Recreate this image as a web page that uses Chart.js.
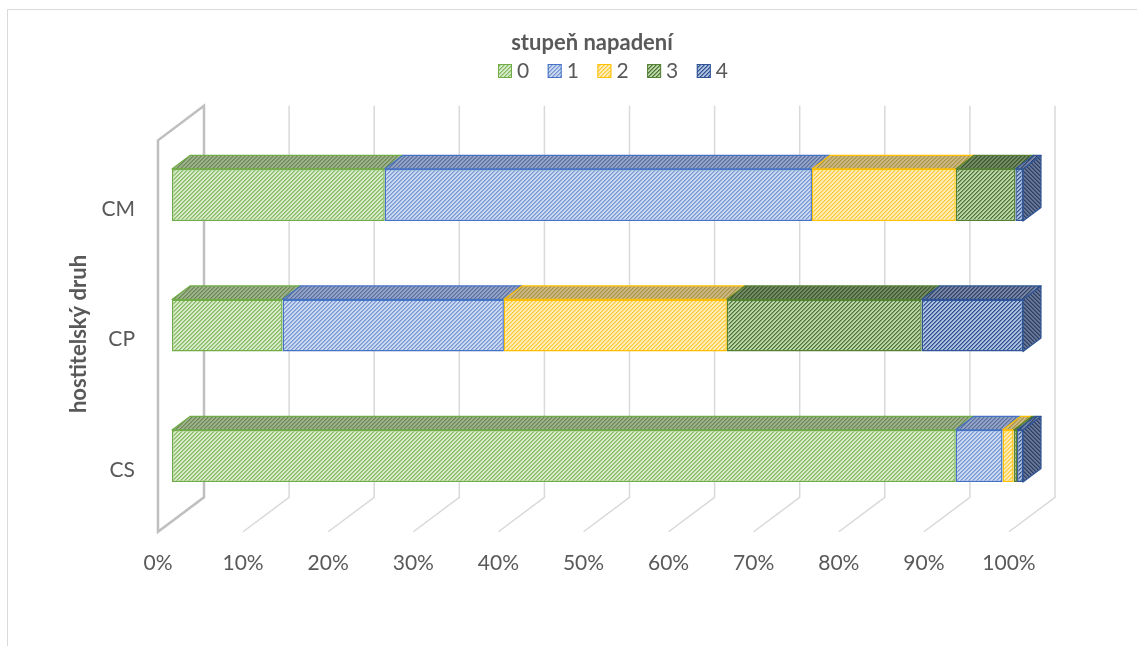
<!DOCTYPE html>
<html>
<head>
<meta charset="utf-8">
<script src="https://cdn.jsdelivr.net/npm/chart.js@4"></script>
<style>
  html, body { margin: 0; padding: 0; background: #fff; }
  canvas { display: block; }
</style>
</head>
<body>
<canvas id="c" width="1137" height="646"></canvas>
<script>
// Share of each infestation degree (%) per host species
const categories = ['CM', 'CP', 'CS'];
const seriesNames = ['0', '1', '2', '3', '4'];
const s0 = [25.0, 13.0, 92.1];
const s1 = [50.2, 26.0, 5.5];
const s2 = [16.9, 26.2, 1.3];
const s3 = [7.0, 22.9, 0.4];
const s4 = [0.9, 11.9, 0.7];
const xTicks = [0, 10, 20, 30, 40, 50, 60, 70, 80, 90, 100];
const legendTitle = 'stupeň napadení';
const yTitle = 'hostitelský druh';

const seriesValues = [s0, s1, s2, s3, s4];

// stroke colour and hatch colours (stripe, ground) for front, top and side faces
const faceStyles = [
  { line: '#70ad47', front: ['#84bb60', '#e3f0d9'], top: ['#6a8a51', '#a6b696'], side: ['#5e7d47', '#93a684'] },
  { line: '#4472c4', front: ['#7496d4', '#d8e2f3'], top: ['#5a70a1', '#9dabc9'], side: ['#4f6390', '#8797b8'] },
  { line: '#ffc000', front: ['#ffca38', '#fff2cc'], top: ['#ad9444', '#cdbe92'], side: ['#9c8540', '#bcac7e'] },
  { line: '#548235', front: ['#4a762e', '#cce1bc'], top: ['#3c582a', '#7c926f'], side: ['#34502a', '#6c8260'] },
  { line: '#2f5597', front: ['#2d5294', '#c0cee8'], top: ['#31436a', '#7f8eab'], side: ['#2b3d63', '#6f7f9f'] }
];

const canvas = document.getElementById('c');
const ctx0 = canvas.getContext('2d');

function rgb(h) {
  const n = parseInt(h.slice(1), 16);
  return [(n >> 16) & 255, (n >> 8) & 255, n & 255];
}

// diagonal hatch tile; dir 1 = "/" stripes, -1 = "\" stripes
function hatch(colors, dir) {
  const n = 8;
  const weights = [1, 0.6, 0.1, 0.15];
  const t = document.createElement('canvas');
  t.width = n; t.height = n;
  const g = t.getContext('2d');
  const img = g.createImageData(n, n);
  const F = rgb(colors[0]), B = rgb(colors[1]);
  for (let y = 0; y < n; y++) {
    for (let x = 0; x < n; x++) {
      const k = (dir > 0 ? x + y : x - y + n * 4) % 4;
      const w = weights[k];
      const o = (y * n + x) * 4;
      for (let c = 0; c < 3; c++) img.data[o + c] = Math.round(B[c] + (F[c] - B[c]) * w);
      img.data[o + 3] = 255;
    }
  }
  g.putImageData(img, 0, 0);
  return ctx0.createPattern(t, 'repeat');
}

const frontFill = faceStyles.map(s => hatch(s.front, 1));
const topFill = faceStyles.map(s => hatch(s.top, 1));
const sideFill = faceStyles.map(s => hatch(s.side, -1));

// oblique depth offsets relative to the bar front plane
const DEPTH = { backX: 32, backY: -24, frontX: -14, frontY: 10.5, barX: 18, barY: -13.5 };
const TEXT = '#595959';
const FONT = 'Lato, "Open Sans", sans-serif';

const scene = {
  id: 'scene',
  beforeDraw(chart) {
    const ctx = chart.ctx;
    ctx.save();
    ctx.fillStyle = '#fff';
    ctx.fillRect(0, 0, chart.width, chart.height);
    ctx.strokeStyle = '#d9d9d9';
    ctx.lineWidth = 1;
    ctx.beginPath();
    ctx.moveTo(7.5, chart.height + 2);
    ctx.lineTo(7.5, 9.5);
    ctx.lineTo(chart.width + 2, 9.5);
    ctx.stroke();
    ctx.restore();
  },
  beforeDatasetsDraw(chart) {
    const { ctx, chartArea: a } = chart;
    const x = chart.scales.x;
    ctx.save();
    // back wall gridlines running down onto the floor
    ctx.strokeStyle = '#d9d9d9';
    ctx.lineWidth = 1.5;
    xTicks.forEach(v => {
      if (v === 0) return;
      const px = x.getPixelForValue(v);
      ctx.beginPath();
      ctx.moveTo(px + DEPTH.backX, a.top + DEPTH.backY);
      ctx.lineTo(px + DEPTH.backX, a.bottom + DEPTH.backY);
      ctx.lineTo(px + DEPTH.frontX, a.bottom + DEPTH.frontY);
      ctx.stroke();
    });
    // side wall outline
    const p0 = x.getPixelForValue(0);
    ctx.strokeStyle = '#bfbfbf';
    ctx.lineWidth = 2.5;
    ctx.lineJoin = 'miter';
    ctx.beginPath();
    ctx.moveTo(p0 + DEPTH.frontX, a.bottom + DEPTH.frontY);
    ctx.lineTo(p0 + DEPTH.frontX, a.top + DEPTH.frontY);
    ctx.lineTo(p0 + DEPTH.backX, a.top + DEPTH.backY);
    ctx.lineTo(p0 + DEPTH.backX, a.bottom + DEPTH.backY);
    ctx.closePath();
    ctx.stroke();

    // top faces of every segment, right face of the last segment
    const n = chart.data.labels.length;
    for (let i = 0; i < n; i++) {
      let last = -1;
      chart.data.datasets.forEach((ds, di) => { if (ds.data[i] > 0) last = di; });
      chart.data.datasets.forEach((ds, di) => {
        const bar = chart.getDatasetMeta(di).data[i];
        if (!bar || !(ds.data[i] > 0)) return;
        const x0 = Math.min(bar.base, bar.x), x1 = Math.max(bar.base, bar.x);
        const yT = bar.y - bar.height / 2, yB = bar.y + bar.height / 2;
        ctx.lineWidth = 1.2;
        ctx.strokeStyle = faceStyles[di].line;
        ctx.lineJoin = 'round';
        ctx.fillStyle = topFill[di];
        ctx.beginPath();
        ctx.moveTo(x0, yT);
        ctx.lineTo(x0 + DEPTH.barX, yT + DEPTH.barY);
        ctx.lineTo(x1 + DEPTH.barX, yT + DEPTH.barY);
        ctx.lineTo(x1, yT);
        ctx.closePath();
        ctx.fill();
        ctx.stroke();
        if (di === last) {
          ctx.fillStyle = sideFill[di];
          ctx.beginPath();
          ctx.moveTo(x1, yT);
          ctx.lineTo(x1 + DEPTH.barX, yT + DEPTH.barY);
          ctx.lineTo(x1 + DEPTH.barX, yB + DEPTH.barY);
          ctx.lineTo(x1, yB);
          ctx.closePath();
          ctx.fill();
          ctx.stroke();
        }
      });
    }
    ctx.restore();
  },
  afterDraw(chart) {
    const ctx = chart.ctx;
    ctx.save();
    ctx.fillStyle = TEXT;
    // legend title
    ctx.font = 'bold 22px ' + FONT;
    ctx.textAlign = 'center';
    ctx.textBaseline = 'middle';
    ctx.fillText(legendTitle, 592, 43);
    // legend entries
    ctx.font = '21px ' + FONT;
    ctx.textAlign = 'left';
    chart.data.datasets.forEach((ds, di) => {
      const bx = 498 + di * 49.7, by = 64;
      ctx.fillStyle = frontFill[di];
      ctx.fillRect(bx, by, 14, 14);
      ctx.strokeStyle = faceStyles[di].line;
      ctx.lineWidth = 1;
      ctx.strokeRect(bx + 0.5, by + 0.5, 13, 13);
      ctx.fillStyle = TEXT;
      ctx.fillText(ds.label, bx + 19, by + 7.5);
    });
    // category axis title
    ctx.font = 'bold 22px ' + FONT;
    ctx.translate(79, 334);
    ctx.rotate(-Math.PI / 2);
    ctx.textAlign = 'center';
    ctx.textBaseline = 'middle';
    ctx.fillText(yTitle, 0, 0);
    ctx.restore();
  }
};

new Chart(canvas, {
  type: 'bar',
  data: {
    labels: categories,
    datasets: seriesValues.map((vals, di) => ({
      label: seriesNames[di],
      data: vals,
      backgroundColor: frontFill[di],
      borderColor: faceStyles[di].line,
      borderWidth: 1.5,
      borderSkipped: false,
      barPercentage: 0.4,
      categoryPercentage: 1.0
    }))
  },
  options: {
    indexAxis: 'y',
    responsive: false,
    animation: false,
    devicePixelRatio: 1,
    layout: { padding: { top: 129.75, right: 114, left: 0, bottom: 0 } },
    plugins: { legend: { display: false }, tooltip: { enabled: false }, title: { display: false } },
    scales: {
      x: {
        stacked: true,
        min: 0,
        max: 100,
        afterBuildTicks: s => { s.ticks = xTicks.map(v => ({ value: v })); },
        afterFit: s => { s.height = 646 - 521.25; },
        grid: { display: false, drawTicks: false },
        border: { display: false },
        ticks: {
          autoSkip: false,
          maxRotation: 0,
          labelOffset: -14,
          padding: 29,
          color: TEXT,
          font: { family: FONT, size: 21 },
          callback: v => v + '%'
        }
      },
      y: {
        stacked: true,
        afterFit: s => { s.width = 172; },
        grid: { display: false, drawTicks: false },
        border: { display: false },
        ticks: {
          padding: 37,
          labelOffset: 14,
          color: TEXT,
          font: { family: FONT, size: 21 }
        }
      }
    }
  },
  plugins: [scene]
});
</script>
</body>
</html>
